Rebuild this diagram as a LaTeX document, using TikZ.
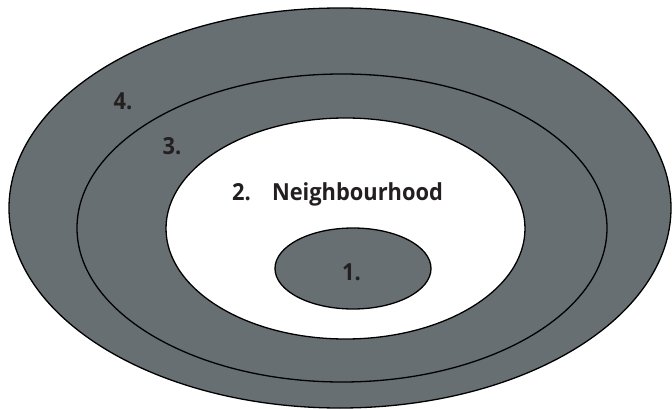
\documentclass[tikz,border=0pt]{standalone}
\usepackage{fontspec}
\setmainfont{Open Sans}[FakeStretch=0.93]
\definecolor{ringgray}{HTML}{676F72}
\definecolor{txt}{HTML}{231F20}
\begin{document}
\begin{tikzpicture}[x=1pt,y=-1pt,
  ring/.style={draw=black,line width=1.3pt,fill=ringgray},
  lab/.style={text=txt,font=\bfseries\fontsize{23.5}{26}\selectfont,inner sep=0pt,anchor=base west}]
\useasboundingbox (0,0) rectangle (672,409);
\fill[white] (0,0) rectangle (672,409);
\draw[ring] (340,208) ellipse [x radius=331, y radius=200] coordinate (e4);
\draw[ring] (342,228) ellipse [x radius=265, y radius=154] coordinate (e3);
\draw[ring,fill=white] (345.5,228.5) ellipse [x radius=179.5, y radius=110.5] coordinate (e2);
\draw[ring] (353,268.5) ellipse [x radius=78, y radius=40.5] coordinate (e1);
\node[lab] (l4) at (113.5,109.5) {4.};
\node[lab] (l3) at (162.5,155) {3.};
\node[lab] (l2) at (232,200) {2.\hspace{0.9em}Neighbourhood};
\node[lab] (l1) at (342,280) {1.};
\end{tikzpicture}
\end{document}
